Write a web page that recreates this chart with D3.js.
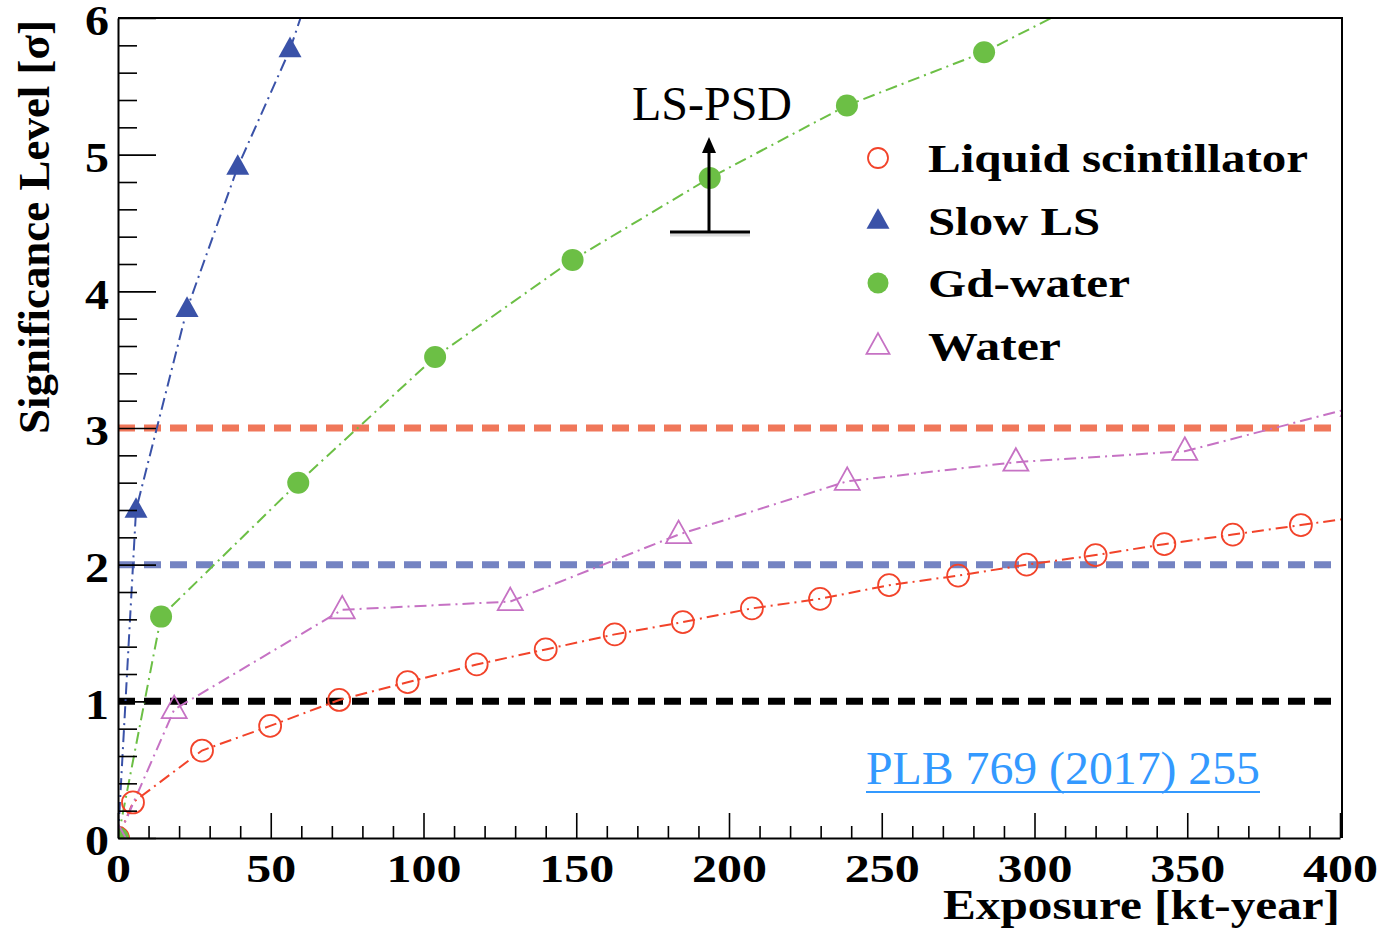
<!DOCTYPE html>
<html>
<head>
<meta charset="utf-8">
<script src="https://cdn.jsdelivr.net/npm/d3@7"></script>
<style>
  html, body { margin: 0; padding: 0; background: #fff; }
  svg { display: block; }
  text { font-family: "Liberation Serif", "Times New Roman", serif; }
</style>
</head>
<body>
<svg id="chart" width="1383" height="930"></svg>
<script>
// Exposure [kt-year] and significance [sigma] for each detector option
const lsExposure   = [0, 4.9, 27.5, 49.8, 72.4, 94.8, 117.4, 140.0, 162.6, 184.9, 207.5, 229.8, 252.4, 275.0, 297.4, 320.0, 342.5, 364.9, 387.2, 409.6];
const lsSignif     = [0, 0.26, 0.64, 0.82, 1.01, 1.14, 1.27, 1.38, 1.49, 1.58, 1.68, 1.75, 1.85, 1.92, 2.00, 2.07, 2.15, 2.22, 2.29, 2.36];

const slowExposure = [0, 5.9, 22.6, 39.2, 56.3, 73.2];
const slowSignif   = [0, 2.40, 3.87, 4.91, 5.77, 6.90];

const gdExposure   = [0, 14.1, 59.0, 103.8, 148.8, 193.7, 238.6, 283.5, 328.4];
const gdSignif     = [0, 1.62, 2.60, 3.52, 4.23, 4.83, 5.36, 5.75, 6.26];

const waterExposure = [0, 18.4, 73.4, 128.4, 183.5, 238.7, 293.9, 349.2, 404.4];
const waterSignif   = [0, 0.94, 1.67, 1.73, 2.22, 2.61, 2.75, 2.83, 3.15];

const thresholds = [3, 2, 1];
const thresholdColors = ["#f0775a", "#7483c2", "#000000"];

const legendLabels = ["Liquid scintillator", "Slow LS", "Gd-water", "Water"];
const xTicks = [0, 50, 100, 150, 200, 250, 300, 350, 400];
const yTicks = [0, 1, 2, 3, 4, 5, 6];

const series = [
  { name: legendLabels[0], xs: lsExposure,    ys: lsSignif,    color: "#f2432a", marker: "circle",   filled: false },
  { name: legendLabels[1], xs: slowExposure,  ys: slowSignif,  color: "#3a52a8", marker: "triangle", filled: true  },
  { name: legendLabels[2], xs: gdExposure,    ys: gdSignif,    color: "#6cbf45", marker: "circle",   filled: true  },
  { name: legendLabels[3], xs: waterExposure, ys: waterSignif, color: "#c672c4", marker: "triangle", filled: false }
];

const svg = d3.select("#chart");
const plotLeft = 118, plotRight = 1340, plotTop = 18, plotBottom = 838;

const x = d3.scaleLinear().domain([0, 400]).range([plotLeft, plotRight]);
const y = d3.scaleLinear().domain([0, 6]).range([plotBottom, plotTop]);

// clip region for the plotted curves
svg.append("defs").append("clipPath").attr("id", "plot-clip")
  .append("rect").attr("x", plotLeft).attr("y", plotTop)
  .attr("width", plotRight - plotLeft + 1).attr("height", plotBottom - plotTop);

// threshold reference lines
svg.append("g").selectAll("line").data(thresholds).join("line")
  .attr("x1", plotLeft).attr("x2", plotRight)
  .attr("y1", d => y(d)).attr("y2", d => y(d))
  .attr("stroke", (d, i) => thresholdColors[i])
  .attr("stroke-width", 7)
  .attr("stroke-dasharray", "17,9");

// curves and markers
const plot = svg.append("g").attr("clip-path", "url(#plot-clip)");
const line = d3.line().x(d => x(d[0])).y(d => y(d[1]));

const triPath = (s) => {
  const h = s * 0.9;
  return `M0,${-h * 0.62}L${s / 2},${h * 0.38}L${-s / 2},${h * 0.38}Z`;
};

series.forEach(s => {
  const pts = s.xs.map((v, i) => [v, s.ys[i]]);
  plot.append("path").datum(pts)
    .attr("d", line)
    .attr("fill", "none")
    .attr("stroke", s.color)
    .attr("stroke-width", 2)
    .attr("stroke-dasharray", "12,5,2,5");
});

series.forEach(s => {
  const pts = s.xs.map((v, i) => [v, s.ys[i]]);
  const g = plot.append("g");
  if (s.marker === "circle") {
    g.selectAll("circle").data(pts).join("circle")
      .attr("cx", d => x(d[0])).attr("cy", d => y(d[1]))
      .attr("r", 11)
      .attr("fill", s.filled ? s.color : "none")
      .attr("stroke", s.color)
      .attr("stroke-width", s.filled ? 0 : 1.8);
  } else {
    const size = s.filled ? 23 : 25;
    g.selectAll("path").data(pts).join("path")
      .attr("transform", d => `translate(${x(d[0])},${y(d[1])})`)
      .attr("d", triPath(size))
      .attr("fill", s.filled ? s.color : "none")
      .attr("stroke", s.color)
      .attr("stroke-width", s.filled ? 0 : 1.8);
  }
});

// axes with ticks pointing into the frame
const tickFont = (size) => (g) => g.selectAll("text")
  .attr("font-weight", "bold")
  .attr("font-size", size)
  .attr("fill", "#000");

const xMinor = d3.range(0, 401, 10).filter(v => v % 50 !== 0);
const yMinor = d3.range(0, 6.01, 0.2).map(v => +v.toFixed(1)).filter(v => Math.abs(v - Math.round(v)) > 1e-6);

svg.append("g").attr("transform", `translate(0,${plotBottom})`)
  .call(d3.axisBottom(x).tickValues(xMinor).tickSize(-12).tickFormat(""))
  .call(g => g.select(".domain").remove())
  .selectAll("line").attr("stroke", "#000").attr("stroke-width", 1.6);

svg.append("g").attr("transform", `translate(0,${plotBottom})`)
  .call(d3.axisBottom(x).tickValues(xTicks).tickSize(-25).tickSizeOuter(0).tickPadding(15).tickFormat(d3.format("d")))
  .call(g => g.select(".domain").attr("stroke", "#000").attr("stroke-width", 2))
  .call(g => g.selectAll("line").attr("stroke", "#000").attr("stroke-width", 1.6))
  .call(tickFont(41))
  .call(g => g.selectAll("text").attr("dy", "0.71em").attr("textLength", d => String(d).length * 25).attr("lengthAdjust", "spacingAndGlyphs"));

svg.append("g").attr("transform", `translate(${plotLeft},0)`)
  .call(d3.axisLeft(y).tickValues(yMinor).tickSize(-19).tickFormat(""))
  .call(g => g.select(".domain").remove())
  .selectAll("line").attr("stroke", "#000").attr("stroke-width", 1.6);

svg.append("g").attr("transform", `translate(${plotLeft},0)`)
  .call(d3.axisLeft(y).tickValues(yTicks).tickSize(-38).tickSizeOuter(0).tickPadding(9).tickFormat(d3.format("d")))
  .call(g => g.select(".domain").attr("stroke", "#000").attr("stroke-width", 2))
  .call(g => g.selectAll("line").attr("stroke", "#000").attr("stroke-width", 1.6))
  .call(tickFont(42))
  .call(g => g.selectAll("text").attr("dy", "0.4em").attr("textLength", 24).attr("lengthAdjust", "spacingAndGlyphs"));

// frame top and right edges
svg.append("path")
  .attr("d", `M${plotLeft},${plotTop}H${plotRight + 2}V${plotBottom}`)
  .attr("fill", "none").attr("stroke", "#000").attr("stroke-width", 2);

// axis titles
svg.append("text")
  .attr("x", plotRight).attr("y", 919)
  .attr("text-anchor", "end")
  .attr("font-weight", "bold").attr("font-size", 42)
  .attr("textLength", 397).attr("lengthAdjust", "spacingAndGlyphs")
  .text("Exposure [kt-year]");

svg.append("text")
  .attr("transform", "translate(49,20) rotate(-90)")
  .attr("text-anchor", "end")
  .attr("font-weight", "bold").attr("font-size", 44)
  .attr("textLength", 414).attr("lengthAdjust", "spacingAndGlyphs")
  .text("Significance Level [σ]");

// legend
const legend = svg.append("g");
const legendY = [158, 221, 283, 346];
series.forEach((s, i) => {
  const g = legend.append("g").attr("transform", `translate(878,${legendY[i]})`);
  if (s.marker === "circle") {
    g.append("circle").attr("r", s.filled ? 10.5 : 10)
      .attr("fill", s.filled ? s.color : "none")
      .attr("stroke", s.color).attr("stroke-width", s.filled ? 0 : 1.8);
  } else {
    g.append("path").attr("d", triPath(23))
      .attr("fill", s.filled ? s.color : "none")
      .attr("stroke", s.color).attr("stroke-width", s.filled ? 0 : 1.8);
  }
});
const legendWidths = [380, 172, 202, 133];
legend.selectAll("text.lab").data(legendLabels).join("text")
  .attr("class", "lab")
  .attr("x", 928).attr("y", (d, i) => legendY[i] + 14)
  .attr("font-weight", "bold").attr("font-size", 40)
  .attr("textLength", (d, i) => legendWidths[i]).attr("lengthAdjust", "spacingAndGlyphs")
  .text(d => d);

// LS-PSD marker: bar with upward arrow
const ann = svg.append("g");
ann.append("line").attr("x1", 670).attr("x2", 750).attr("y1", 235).attr("y2", 235)
  .attr("stroke", "#bbb").attr("stroke-width", 3).attr("opacity", 0.5);
ann.append("line").attr("x1", 670).attr("x2", 750).attr("y1", 232).attr("y2", 232)
  .attr("stroke", "#000").attr("stroke-width", 3);
ann.append("line").attr("x1", 709).attr("x2", 709).attr("y1", 232).attr("y2", 150)
  .attr("stroke", "#000").attr("stroke-width", 3);
ann.append("path").attr("d", "M709,137L716,153L702,153Z").attr("fill", "#000");
ann.append("text").attr("x", 712).attr("y", 120)
  .attr("text-anchor", "middle").attr("font-size", 48)
  .text("LS-PSD");

// reference
svg.append("text").attr("x", 866).attr("y", 784)
  .attr("font-size", 47).attr("fill", "#3399ff")
  .attr("textLength", 394).attr("lengthAdjust", "spacingAndGlyphs")
  .text("PLB 769 (2017) 255");
svg.append("line").attr("x1", 866).attr("x2", 1260).attr("y1", 792).attr("y2", 792)
  .attr("stroke", "#3399ff").attr("stroke-width", 2);
</script>
</body>
</html>
